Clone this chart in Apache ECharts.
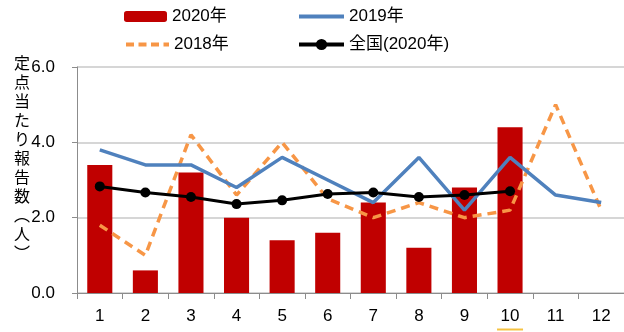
<!DOCTYPE html>
<html>
<head>
<meta charset="utf-8">
<script src="https://cdn.jsdelivr.net/npm/echarts@6/dist/echarts.min.js"></script>
<style>
  html, body { margin: 0; padding: 0; background: #fff; }
  #chart { width: 624px; height: 332px; }
</style>
</head>
<body>
<div id="chart"></div>
<script>
// 月別の定点当たり報告数
const months = ['1', '2', '3', '4', '5', '6', '7', '8', '9', '10', '11', '12'];
const y2020 = [3.4, 0.6, 3.2, 2.0, 1.4, 1.6, 2.4, 1.2, 2.8, 4.4, null, null];
const y2019 = [3.8, 3.4, 3.4, 2.8, 3.6, 3.0, 2.4, 3.6, 2.2, 3.6, 2.6, 2.4];
const y2018 = [1.8, 1.0, 4.2, 2.6, 4.0, 2.5, 2.0, 2.4, 2.0, 2.2, 5.0, 2.2];
const national2020 = [2.83, 2.67, 2.55, 2.36, 2.46, 2.63, 2.67, 2.55, 2.6, 2.7, null, null];
const yTicks = { min: 0, max: 6, step: 2 };
const yTitle = '定点当たり報告数︵人︶';

const FONT = '"Liberation Sans", "Noto Sans CJK JP", sans-serif';
const chart = echarts.init(document.getElementById('chart'));

const legendText = { fontSize: 17, color: '#000', fontFamily: FONT };
const hiddenSymbol = { color: 'transparent', borderWidth: 0 };

chart.setOption({
  animation: false,
  textStyle: { fontFamily: FONT },
  grid: { left: 77, right: -2, top: 67, bottom: 39 },
  title: {
    text: yTitle.split('').join('\n'),
    left: 9, top: 50,
    textStyle: { fontSize: 16, fontWeight: 'normal', color: '#000', lineHeight: 19, fontFamily: FONT }
  },
  legend: [
    { data: ['2020年'], left: 124, top: 8, padding: 0, itemWidth: 43, itemHeight: 11, itemGap: 6, textStyle: legendText },
    { data: ['2019年'], left: 297, top: 8, padding: 0, itemWidth: 45, itemHeight: 14, itemGap: 5,
      itemStyle: hiddenSymbol, lineStyle: { width: 4 }, textStyle: legendText },
    { data: ['2018年'], left: 124, top: 36, padding: 0, itemWidth: 43, itemHeight: 14, itemGap: 5,
      itemStyle: hiddenSymbol, lineStyle: { width: 4, type: [8, 4.5] }, textStyle: legendText },
    { data: ['全国(2020年)'], left: 297, top: 36, padding: 0, itemWidth: 45, itemHeight: 14, itemGap: 5,
      lineStyle: { width: 4 }, textStyle: legendText }
  ],
  xAxis: {
    type: 'category',
    data: months,
    boundaryGap: true,
    axisLine: { lineStyle: { color: '#8c8c8c', width: 1 } },
    axisTick: { show: true, alignWithLabel: false, length: 6, lineStyle: { color: '#8c8c8c' } },
    axisLabel: { color: '#000', fontSize: 17, margin: 15, fontFamily: FONT }
  },
  yAxis: {
    type: 'value',
    min: yTicks.min, max: yTicks.max, interval: yTicks.step,
    axisLine: { show: true, lineStyle: { color: '#8c8c8c', width: 1 } },
    axisTick: { show: true, length: 5, lineStyle: { color: '#8c8c8c' } },
    splitLine: { show: true, lineStyle: { color: '#c8c8c8', width: 1.5 } },
    axisLabel: { color: '#000', fontSize: 17, margin: 22, fontFamily: FONT,
      formatter: v => v.toFixed(1) }
  },
  series: [
    {
      name: '2020年', type: 'bar', data: y2020,
      barWidth: '55%',
      itemStyle: { color: '#C00000' },
      z: 1
    },
    {
      name: '2019年', type: 'line', data: y2019,
      symbol: 'none',
      lineStyle: { color: '#4F81BD', width: 3.5 },
      itemStyle: { color: '#4F81BD' },
      z: 3
    },
    {
      name: '2018年', type: 'line', data: y2018,
      symbol: 'none',
      lineStyle: { color: '#F79646', width: 3.5, type: [9, 6] },
      itemStyle: { color: '#F79646' },
      z: 2
    },
    {
      name: '全国(2020年)', type: 'line', data: national2020,
      symbol: 'circle', symbolSize: 10, showSymbol: true,
      lineStyle: { color: '#000', width: 3 },
      itemStyle: { color: '#000' },
      z: 4
    }
  ]
});

// Yellow underline under the "10" month label
const p = chart.convertToPixel({ xAxisIndex: 0 }, '10');
chart.setOption({
  graphic: [{
    type: 'line',
    shape: { x1: p - 13, y1: 329.5, x2: p + 13, y2: 329.5 },
    style: { stroke: '#F5C242', lineWidth: 2 }
  }]
});
</script>
</body>
</html>
